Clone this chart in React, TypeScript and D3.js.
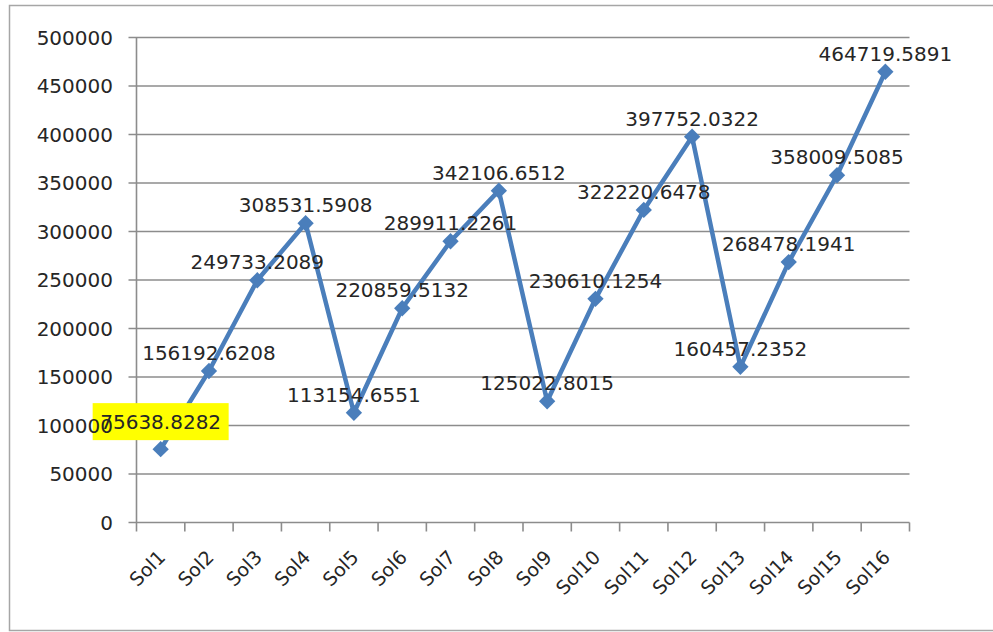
import React from "react";
import * as d3 from "d3";

const categories = [
  "Sol1", "Sol2", "Sol3", "Sol4", "Sol5", "Sol6", "Sol7", "Sol8",
  "Sol9", "Sol10", "Sol11", "Sol12", "Sol13", "Sol14", "Sol15", "Sol16",
];

const values = [
  75638.8282, 156192.6208, 249733.2089, 308531.5908, 113154.6551, 220859.5132,
  289911.2261, 342106.6512, 125022.8015, 230610.1254, 322220.6478, 397752.0322,
  160457.2352, 268478.1941, 358009.5085, 464719.5891,
];

const valueLabels = [
  "75638.8282", "156192.6208", "249733.2089", "308531.5908", "113154.6551",
  "220859.5132", "289911.2261", "342106.6512", "125022.8015", "230610.1254",
  "322220.6478", "397752.0322", "160457.2352", "268478.1941", "358009.5085",
  "464719.5891",
];

const yTicks = [0, 50000, 100000, 150000, 200000, 250000, 300000, 350000, 400000, 450000, 500000];

// index of the label shown on a yellow highlight
const highlighted = 0;

const W = 993;
const H = 632;
const left = 136.5;
const right = 909.5;
const top = 37.5;
const bottom = 522.5;

const FONT = "'DejaVu Sans', Verdana, sans-serif";
const TEXT = "#262626";
const GRID = "#8c8c8c";
const BLUE = "#4a7ebb";

export default function App() {
  const x = d3.scaleBand<string>().domain(categories).range([left, right]).padding(0);
  const y = d3.scaleLinear().domain([0, 500000]).range([bottom, top]);
  const cx = (i: number) => (x(categories[i]) as number) + x.bandwidth() / 2;

  const line = d3
    .line<number>()
    .x((_, i) => cx(i))
    .y((d) => y(d));

  const diamond = d3.symbol().type(d3.symbolDiamond2).size(170)();

  const boundaries = categories.map((c) => x(c) as number).concat([right]);

  const hx = cx(highlighted);
  const hy = y(values[highlighted]);

  return (
    <svg width={W} height={H} style={{ position: "absolute", left: 0, top: 0 }}>
      <rect x={0} y={0} width={W} height={H} fill="#ffffff" />
      <rect x={9.5} y={5.5} width={W + 20} height={625} fill="none" stroke="#a6a6a6" strokeWidth={1.5} />

      {/* horizontal gridlines with small left ticks */}
      {yTicks.map((t) => (
        <line key={t} x1={left - 8} x2={right} y1={y(t)} y2={y(t)} stroke={GRID} strokeWidth={1.6} />
      ))}

      {/* value axis */}
      <line x1={left} x2={left} y1={top} y2={bottom} stroke={GRID} strokeWidth={1.6} />

      {/* category axis ticks between categories */}
      {boundaries.map((b, i) => (
        <line key={i} x1={b} x2={b} y1={bottom} y2={bottom + 9} stroke={GRID} strokeWidth={1.6} />
      ))}

      <path d={line(values) as string} fill="none" stroke={BLUE} strokeWidth={4.5} strokeLinejoin="round" />
      {values.map((v, i) => (
        <path key={i} d={diamond as string} transform={`translate(${cx(i)},${y(v)})`} fill={BLUE} />
      ))}

      <rect x={hx - 68} y={hy - 46} width={136} height={37} fill="#ffff00" />

      {yTicks.map((t) => (
        <text
          key={t}
          x={113}
          y={y(t)}
          dy="0.36em"
          textAnchor="end"
          fontFamily={FONT}
          fontSize={20}
          fill={TEXT}
        >
          {t}
        </text>
      ))}

      {categories.map((c, i) => (
        <text
          key={c}
          transform={`translate(${cx(i) + 6},${bottom + 36}) rotate(-45)`}
          textAnchor="end"
          fontFamily={FONT}
          fontSize={19}
          fill={TEXT}
        >
          {c}
        </text>
      ))}

      {values.map((v, i) => (
        <text
          key={i}
          x={cx(i)}
          y={y(v) - (i === highlighted ? 20 : 11)}
          textAnchor="middle"
          fontFamily={FONT}
          fontSize={20}
          fill={TEXT}
        >
          {valueLabels[i]}
        </text>
      ))}
    </svg>
  );
}
